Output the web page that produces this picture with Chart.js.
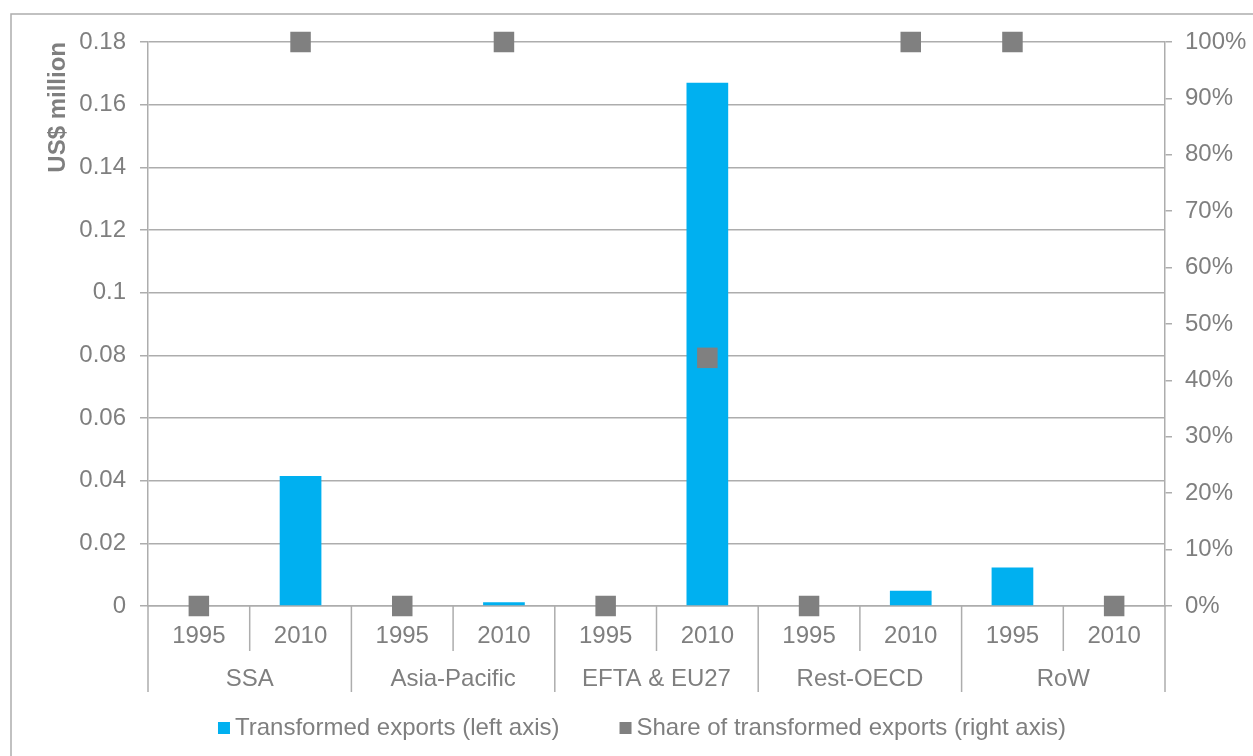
<!DOCTYPE html>
<html>
<head>
<meta charset="utf-8">
<script src="https://cdn.jsdelivr.net/npm/chart.js@4.4.0/dist/chart.umd.min.js"></script>
<style>
  html, body { margin: 0; padding: 0; background: #fff; }
  #wrap { width: 1253px; height: 756px; }
</style>
</head>
<body>
<div id="wrap"><canvas id="chart" width="1253" height="756"></canvas></div>
<script>
// categories
const years = ['1995', '2010', '1995', '2010', '1995', '2010', '1995', '2010', '1995', '2010'];
const regions = ['SSA', 'Asia-Pacific', 'EFTA & EU27', 'Rest-OECD', 'RoW'];
// series
const transformedExports = [0, 0.0415, 0, 0.0012, 0, 0.167, 0, 0.0049, 0.0123, 0]; // US$ million
const shareTransformed = [0, 1, 0, 1, 0, 0.44, 0, 1, 1, 0]; // share, 0..1
const seriesNames = ['Transformed exports (left axis)', 'Share of transformed exports (right axis)'];
// tick labels
const leftTickLabels = ['0', '0.02', '0.04', '0.06', '0.08', '0.1', '0.12', '0.14', '0.16', '0.18'];
const rightTickLabels = ['0%', '10%', '20%', '30%', '40%', '50%', '60%', '70%', '80%', '90%', '100%'];

const textColor = '#7F7F7F';
const lineColor = '#ADADAD';
const barColor = '#00B0F0';
const markerColor = '#808080';
const fontFamily = '"Liberation Sans", Arial, sans-serif';
const fontSize = 24;

// outer frame, two-level category axis and legend
const decor = {
    id: 'decor',
    afterDraw(chart) {
        const ctx = chart.ctx;
        const area = chart.chartArea;
        const x = chart.scales.x;
        ctx.save();

        // frame
        ctx.strokeStyle = lineColor;
        ctx.lineWidth = 1.5;
        ctx.strokeRect(11, 14, 1260, 760);

        // separators below the axis
        const n = years.length;
        for (let i = 0; i <= n; i++) {
            let px;
            if (i === 0) px = area.left;
            else if (i === n) px = area.right;
            else px = (x.getPixelForValue(i - 1) + x.getPixelForValue(i)) / 2;
            const end = i % 2 === 0 ? 692 : 651;
            ctx.beginPath();
            ctx.moveTo(px, area.bottom);
            ctx.lineTo(px, end);
            ctx.stroke();
        }

        // region labels
        ctx.fillStyle = textColor;
        ctx.font = fontSize + 'px ' + fontFamily;
        ctx.textAlign = 'center';
        ctx.textBaseline = 'middle';
        regions.forEach((r, k) => {
            const cx = (x.getPixelForValue(2 * k) + x.getPixelForValue(2 * k + 1)) / 2;
            ctx.fillText(r, cx, 679);
        });

        // legend
        const ds = chart.data.datasets;
        const box = 12, gap = 5, itemGap = 60;
        const widths = ds.map(d => ctx.measureText(d.label).width);
        const total = widths.reduce((a, w) => a + box + gap + w, 0) + itemGap;
        let lx = 642 - total / 2;
        const ly = 728;
        ctx.textAlign = 'left';
        ds.forEach((d, i) => {
            ctx.fillStyle = d.type === 'line' ? d.pointBackgroundColor : d.backgroundColor;
            ctx.fillRect(lx, ly - box / 2, box, box);
            ctx.fillStyle = textColor;
            ctx.fillText(d.label, lx + box + gap, ly);
            lx += box + gap + widths[i] + itemGap;
        });
        ctx.restore();
    }
};

new Chart(document.getElementById('chart'), {
    type: 'bar',
    data: {
        labels: years,
        datasets: [{
            label: seriesNames[0],
            data: transformedExports,
            yAxisID: 'y',
            backgroundColor: barColor,
            borderWidth: 0,
            categoryPercentage: 1,
            barPercentage: 0.41,
            order: 2
        }, {
            type: 'line',
            label: seriesNames[1],
            data: shareTransformed,
            yAxisID: 'yR',
            showLine: false,
            pointStyle: 'rect',
            pointRadius: 14.5,
            pointHoverRadius: 14.5,
            pointBorderWidth: 0,
            pointBackgroundColor: markerColor,
            borderColor: markerColor,
            clip: false,
            order: 1
        }]
    },
    options: {
        responsive: false,
        animation: false,
        layout: { padding: { top: 42, left: 0, right: 0, bottom: 0 } },
        plugins: {
            legend: { display: false },
            tooltip: { enabled: false }
        },
        scales: {
            x: {
                offset: true,
                grid: { display: false, drawTicks: false },
                border: { display: true, color: lineColor, width: 1.5 },
                ticks: {
                    color: textColor,
                    font: { family: fontFamily, size: fontSize },
                    padding: 16,
                    autoSkip: false,
                    maxRotation: 0
                },
                afterFit(scale) { scale.height = 150; }
            },
            y: {
                position: 'left',
                min: 0,
                max: 0.18,
                ticks: {
                    stepSize: 0.02,
                    color: textColor,
                    font: { family: fontFamily, size: fontSize },
                    padding: 14,
                    callback: (v, i) => leftTickLabels[i]
                },
                grid: { color: lineColor, lineWidth: 1.5, tickLength: 8 },
                border: { display: true, color: lineColor, width: 1.5 },
                title: {
                    display: true,
                    text: 'US$ million',
                    align: 'end',
                    color: textColor,
                    font: { family: fontFamily, size: fontSize, weight: 'bold' },
                    padding: { top: 44, bottom: 0 }
                },
                afterFit(scale) { scale.width = 148; }
            },
            yR: {
                position: 'right',
                min: 0,
                max: 1,
                ticks: {
                    stepSize: 0.1,
                    color: textColor,
                    font: { family: fontFamily, size: fontSize },
                    padding: 13,
                    callback: (v, i) => rightTickLabels[i]
                },
                grid: { drawOnChartArea: false, color: lineColor, lineWidth: 1.5, tickLength: 7 },
                border: { display: true, color: lineColor, width: 1.5 },
                afterFit(scale) { scale.width = 88; }
            }
        }
    },
    plugins: [decor]
});
</script>
</body>
</html>
